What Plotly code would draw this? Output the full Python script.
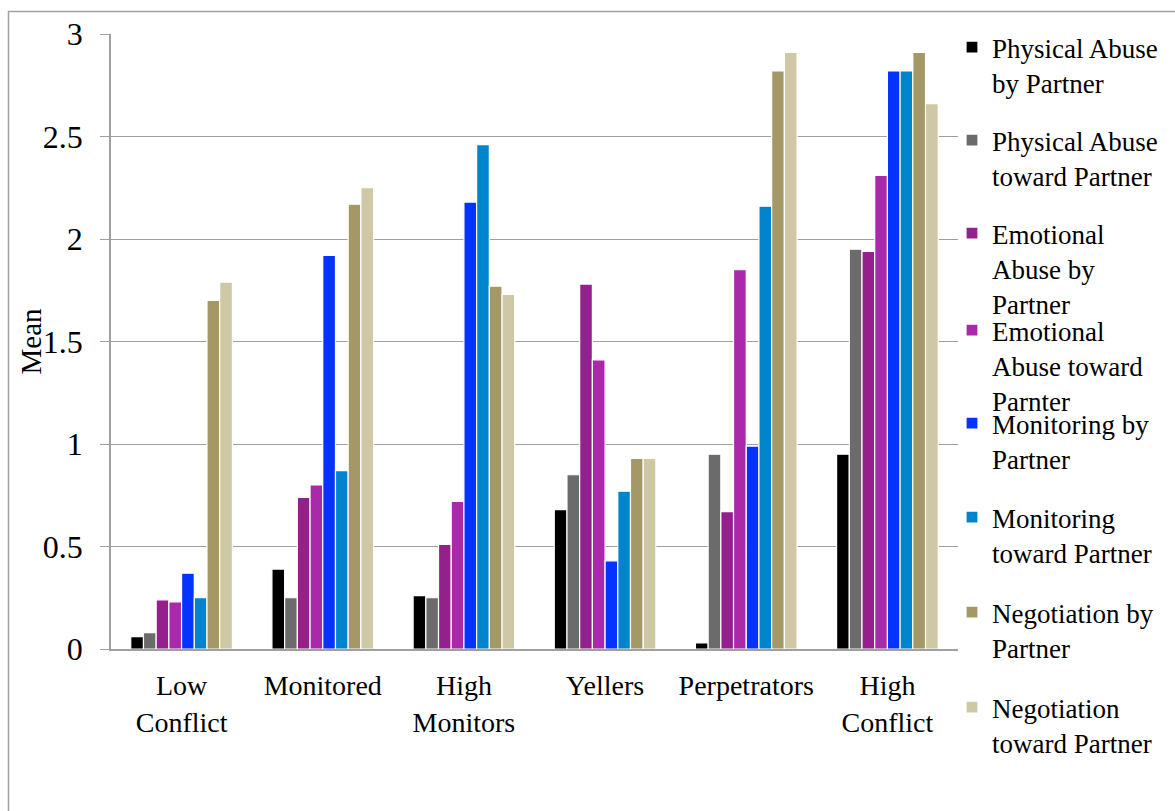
import plotly.graph_objects as go

# Groups of couples and the mean score on each scale
groups = ["Low<br>Conflict", "Monitored", "High<br>Monitors", "Yellers", "Perpetrators", "High<br>Conflict"]

phys_by = [0.06, 0.39, 0.26, 0.68, 0.03, 0.95]
phys_toward = [0.08, 0.25, 0.25, 0.85, 0.95, 1.95]
emo_by = [0.24, 0.74, 0.51, 1.78, 0.67, 1.94]
emo_toward = [0.23, 0.80, 0.72, 1.41, 1.85, 2.31]
mon_by = [0.37, 1.92, 2.18, 0.43, 0.99, 2.82]
mon_toward = [0.25, 0.87, 2.46, 0.77, 2.16, 2.82]
neg_by = [1.70, 2.17, 1.77, 0.93, 2.82, 2.91]
neg_toward = [1.79, 2.25, 1.73, 0.93, 2.91, 2.66]

series_names = [
    "Physical Abuse<br>by Partner",
    "Physical Abuse<br>toward Partner",
    "Emotional<br>Abuse by<br>Partner",
    "Emotional<br>Abuse toward<br>Parnter",
    "Monitoring by<br>Partner",
    "Monitoring<br>toward Partner",
    "Negotiation by<br>Partner",
    "Negotiation<br>toward Partner",
]
series_values = [phys_by, phys_toward, emo_by, emo_toward, mon_by, mon_toward, neg_by, neg_toward]
series_colors = ["#000000", "#6b6b6b", "#93208d", "#aa28aa", "#0433ff", "#0084cc", "#a59867", "#cfc8a6"]

y_ticks = [0, 0.5, 1, 1.5, 2, 2.5, 3]
y_tick_text = ["0", "0.5", "1", "1.5", "2", "2.5", "3"]

FONT = "Liberation Serif"
W, H = 1175, 811
L, R, T, B = 111, 217, 34, 162
PW, PH = W - L - R, H - T - B


def px_x(px):
    return (px - L) / PW


def px_y(py):
    return (H - B - py) / PH


# legend entry top edges (pixels), one legend per series
legend_tops = [23, 116, 209, 306, 399, 493, 588, 683]

fig = go.Figure()
for i, (name, vals, col) in enumerate(zip(series_names, series_values, series_colors)):
    fig.add_trace(go.Bar(
        x=groups, y=vals, name=name,
        marker=dict(color=col, line=dict(color="white", width=1.2)),
        legend="legend" if i == 0 else f"legend{i + 1}",
    ))

legend_common = dict(
    x=px_x(952), xanchor="left", yanchor="top", valign="top",
    bgcolor="rgba(0,0,0,0)", borderwidth=0,
    font=dict(family=FONT, size=27, color="black"),
    itemclick=False, itemdoubleclick=False,
)
legends = {}
for i, top in enumerate(legend_tops):
    key = "legend" if i == 0 else f"legend{i + 1}"
    legends[key] = dict(legend_common, y=px_y(top))

fig.update_layout(
    width=W, height=H,
    margin=dict(l=L, r=R, t=T, b=B, pad=0),
    paper_bgcolor="white", plot_bgcolor="white",
    barmode="group", bargap=0.28, bargroupgap=0,
    font=dict(family=FONT, color="black"),
    showlegend=True,
    **legends,
    xaxis=dict(
        showgrid=False, showline=True, linecolor="#a0a0a0", linewidth=1.5,
        ticks="", tickfont=dict(family=FONT, size=28, color="black"),
        ticklabelstandoff=11, fixedrange=True,
    ),
    yaxis=dict(
        range=[0, 3], tickvals=y_ticks, ticktext=y_tick_text,
        showgrid=True, gridcolor="#a0a0a0", gridwidth=1.3,
        showline=True, linecolor="#a0a0a0", linewidth=1.5,
        ticks="outside", ticklen=9, tickcolor="#a0a0a0", tickwidth=1.3,
        tickfont=dict(family=FONT, size=32, color="black"),
        ticklabelstandoff=11,
        zeroline=False, fixedrange=True,
    ),
    annotations=[dict(
        text="Mean", xref="paper", yref="paper",
        x=px_x(30), y=0.5, xanchor="center", yanchor="middle",
        textangle=-90, showarrow=False,
        font=dict(family=FONT, size=29, color="black"),
    )],
    shapes=[dict(
        type="rect", xref="paper", yref="paper",
        x0=px_x(8.5), x1=px_x(W + 20), y0=px_y(11.5), y1=px_y(H + 20),
        line=dict(color="#a0a0a0", width=1.5), fillcolor="rgba(0,0,0,0)", layer="below",
    )],
)

fig.write_html("out.html")
